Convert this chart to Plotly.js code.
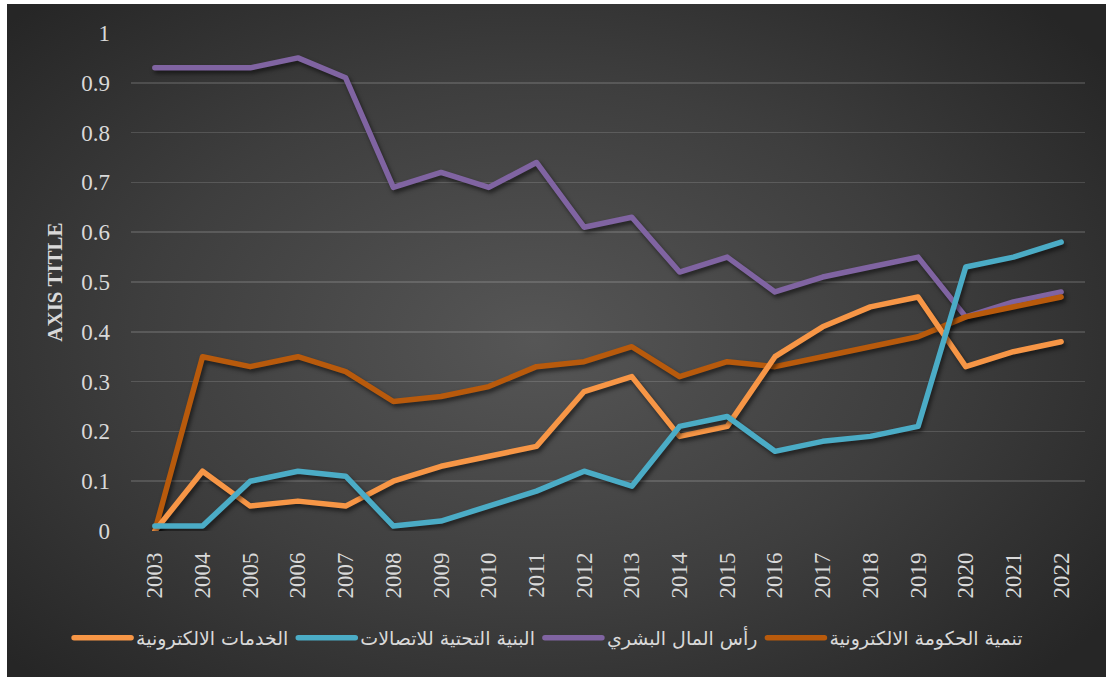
<!DOCTYPE html>
<html>
<head>
<meta charset="utf-8">
<script src="https://cdn.plot.ly/plotly-3.0.1.min.js"></script>
<style>
  html, body { margin: 0; padding: 0; background: #ffffff; width: 1106px; height: 678px; overflow: hidden; }
  #bg { position: absolute; left: 7px; top: 4px; width: 1099px; height: 673px;
        background: radial-gradient(ellipse 65% 70% at 48% 50%, #565656 0%, #3e3e3e 55%, #262626 100%); }
  #chart { position: absolute; left: 0; top: 0; width: 1106px; height: 678px; }
  .scatterlayer .js-line { stroke-linecap: round; stroke-linejoin: round; filter: drop-shadow(2px 3px 2px rgba(0,0,0,0.55)); }
  .legend .js-line { stroke-linecap: round; }
</style>
</head>
<body>
<div id="bg"></div>
<div id="chart"></div>
<script>
const years = ["2003","2004","2005","2006","2007","2008","2009","2010","2011","2012",
               "2013","2014","2015","2016","2017","2018","2019","2020","2021","2022"];

const seriesNames = ["الخدمات الالكترونية", "البنية التحتية للاتصالات", "رأس المال البشري", "تنمية الحكومة الالكترونية"];

const eServices   = [0.00, 0.12, 0.05, 0.06, 0.05, 0.10, 0.13, 0.15, 0.17, 0.28, 0.31, 0.19, 0.21, 0.35, 0.41, 0.45, 0.47, 0.33, 0.36, 0.38];
const telecomInfra = [0.01, 0.01, 0.10, 0.12, 0.11, 0.01, 0.02, 0.05, 0.08, 0.12, 0.09, 0.21, 0.23, 0.16, 0.18, 0.19, 0.21, 0.53, 0.55, 0.58];
const humanCapital = [0.93, 0.93, 0.93, 0.95, 0.91, 0.69, 0.72, 0.69, 0.74, 0.61, 0.63, 0.52, 0.55, 0.48, 0.51, 0.53, 0.55, 0.43, 0.46, 0.48];
const eGovDev      = [0.00, 0.35, 0.33, 0.35, 0.32, 0.26, 0.27, 0.29, 0.33, 0.34, 0.37, 0.31, 0.34, 0.33, 0.35, 0.37, 0.39, 0.43, 0.45, 0.47];

const yTicks = [0, 0.1, 0.2, 0.3, 0.4, 0.5, 0.6, 0.7, 0.8, 0.9, 1];
const yTickText = ["0", "0.1", "0.2", "0.3", "0.4", "0.5", "0.6", "0.7", "0.8", "0.9", "1"];

const colors = ["#F79646", "#4BACC6", "#8064A2", "#B85A0C"];

function tr(vals, i, rank) {
  return { x: years, y: vals, type: "scatter", mode: "lines", name: seriesNames[i],
           line: { color: colors[i], width: 5.5 }, legendrank: rank, hoverinfo: "skip" };
}

// drawing order: purple, dark orange, light orange, cyan (cyan on top)
const data = [
  tr(humanCapital, 2, 3),
  tr(eGovDev, 3, 4),
  tr(eServices, 0, 1),
  tr(telecomInfra, 1, 2)
];

const tickFont = { family: "Liberation Serif, Times New Roman, serif", size: 23, color: "#d9d9d9" };

const layout = {
  width: 1106, height: 678,
  paper_bgcolor: "rgba(0,0,0,0)", plot_bgcolor: "rgba(0,0,0,0)",
  margin: { l: 131, r: 21, t: 33, b: 147 },
  showlegend: true,
  xaxis: {
    type: "category", range: [-0.5, 19.5], tickangle: -90, tickfont: tickFont,
    showgrid: false, zeroline: false, showline: false, ticks: "",
    ticklabelstandoff: 16, fixedrange: true
  },
  yaxis: {
    range: [0, 1], tickvals: yTicks, ticktext: yTickText, tickfont: tickFont,
    showgrid: true, gridcolor: "rgba(255,255,255,0.14)", gridwidth: 1.5,
    zeroline: false, showline: false, ticks: "", ticklabelstandoff: 20,
    title: { text: "AXIS TITLE", font: { family: "Liberation Serif, Times New Roman, serif", size: 21, color: "#d9d9d9", weight: "bold" }, standoff: 12 },
    fixedrange: true
  },
  legend: {
    orientation: "h", xref: "container", yref: "container",
    x: 0.496, xanchor: "center", y: 0.059, yanchor: "middle",
    font: { family: "DejaVu Sans, sans-serif", size: 19, color: "#d9d9d9" },
    itemwidth: 57, bgcolor: "rgba(0,0,0,0)", tracegroupgap: 0
  }
};

Plotly.newPlot("chart", data, layout, { displayModeBar: false, staticPlot: true });
</script>
</body>
</html>
